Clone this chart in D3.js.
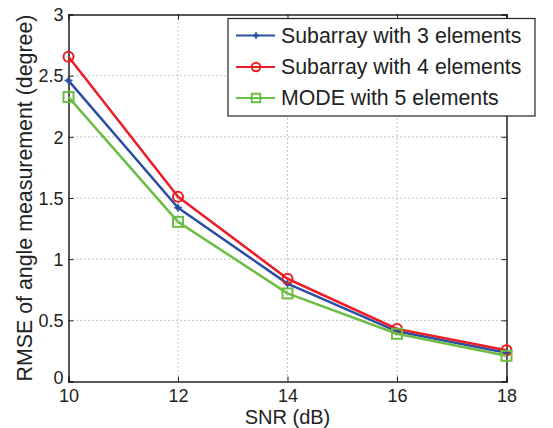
<!DOCTYPE html>
<html><head><meta charset="utf-8">
<script src="https://cdn.jsdelivr.net/npm/d3@7"></script>
<style>body{margin:0;background:#fff}svg{display:block}text{font-family:"Liberation Sans",Arial,sans-serif;fill:#222}</style>
</head><body>
<script>
const snr = [10, 12, 14, 16, 18];
const sub3 = [2.46, 1.42, 0.80, 0.41, 0.235];
const sub4 = [2.655, 1.51, 0.84, 0.43, 0.255];
const mode5 = [2.325, 1.305, 0.72, 0.39, 0.21];
const xTicks = [10, 12, 14, 16, 18];
const yTicks = [0, 0.5, 1, 1.5, 2, 2.5, 3];
const seriesNames = ["Subarray with 3 elements", "Subarray with 4 elements", "MODE with 5 elements"];

const W = 553, H = 428;
const L = 68.5, R = 506.5, T = 14.5, B = 381.5;
const svg = d3.select("body").append("svg").attr("width", W).attr("height", H);
const x = d3.scaleLinear().domain([10, 18]).range([L, R]);
const y = d3.scaleLinear().domain([0, 3]).range([B, T]);

// grid
const g = svg.append("g");
g.selectAll(".gx").data(xTicks.slice(1, -1)).enter().append("line")
  .attr("x1", d => x(d)).attr("x2", d => x(d)).attr("y1", T).attr("y2", B)
  .attr("stroke", "#888").attr("stroke-width", 1).attr("stroke-dasharray", "1,3");
g.selectAll(".gy").data(yTicks.slice(1, -1)).enter().append("line")
  .attr("y1", d => y(d)).attr("y2", d => y(d)).attr("x1", L).attr("x2", R)
  .attr("stroke", "#888").attr("stroke-width", 1).attr("stroke-dasharray", "1,3");

// axes
const ax = svg.append("g").attr("transform", `translate(0,${B})`)
  .call(d3.axisBottom(x).tickValues(xTicks).tickSize(-5).tickPadding(9).tickFormat(d3.format("d")));
const ay = svg.append("g").attr("transform", `translate(${L},0)`)
  .call(d3.axisLeft(y).tickValues(yTicks).tickSize(-5).tickPadding(5).tickFormat(d => d));
const axT = svg.append("g").attr("transform", `translate(0,${T})`)
  .call(d3.axisTop(x).tickValues(xTicks).tickSize(-5).tickFormat(""));
const ayR = svg.append("g").attr("transform", `translate(${R},0)`)
  .call(d3.axisRight(y).tickValues(yTicks).tickSize(-5).tickFormat(""));
[ax, ay, axT, ayR].forEach(a => {
  a.select(".domain").attr("stroke", "#222").attr("stroke-width", 1.5);
  a.selectAll(".tick line").attr("stroke", "#222");
  a.selectAll("text").attr("font-size", 18).attr("fill", "#222")
    .attr("font-family", '"Liberation Sans",Arial,sans-serif');
});
ax.selectAll("text").attr("dy", "0.62em");
ay.selectAll("text").attr("dy", d => d === 0 ? "0.12em" : "0.35em");

// axis titles
svg.append("text").attr("x", (L + R) / 2).attr("y", 424).attr("text-anchor", "middle")
  .attr("font-size", 20).text("SNR (dB)");
const yt = svg.append("text").attr("transform", `translate(32,${(T + B) / 2}) rotate(-90)`)
  .attr("text-anchor", "middle").attr("font-size", 20).text("RMSE of angle measurement (degree)");
const len = yt.node().getComputedTextLength();
yt.attr("font-size", 20 * 367 / len);

const colors = ["#2b4ea2", "#ec1c24", "#6cbd45"];
const allSeries = [sub3, sub4, mode5];
const line = d3.line().x((d, i) => x(snr[i])).y(d => y(d));

function marker(sel, k, cx, cy, s) {
  if (k === 0) {
    sel.append("circle").attr("cx", cx).attr("cy", cy).attr("r", 2.5 * s).attr("fill", colors[0]);
    sel.append("path").attr("d", `M${cx-4*s},${cy}H${cx+4*s}M${cx},${cy-4*s}V${cy+4*s}`).attr("stroke", colors[0]).attr("stroke-width", 1.5);
  } else if (k === 1) {
    sel.append("circle").attr("cx", cx).attr("cy", cy).attr("r", 5 * s).attr("fill", "none")
      .attr("stroke", colors[1]).attr("stroke-width", 2);
  } else {
    sel.append("rect").attr("x", cx - 5 * s).attr("y", cy - 5 * s).attr("width", 10 * s).attr("height", 10 * s)
      .attr("fill", "none").attr("stroke", colors[2]).attr("stroke-width", 2);
  }
}

[0, 1, 2].forEach(k => {
  const gg = svg.append("g");
  gg.append("path").datum(allSeries[k]).attr("d", line).attr("fill", "none")
    .attr("stroke", colors[k]).attr("stroke-width", 2.5).attr("stroke-linejoin", "round");
  allSeries[k].forEach((v, i) => marker(gg, k, x(snr[i]), y(v), 1));
});

// legend
const lg = svg.append("g");
lg.append("rect").attr("x", 228).attr("y", 18.5).attr("width", 307).attr("height", 97.5)
  .attr("fill", "#fff").attr("stroke", "#222").attr("stroke-width", 1.2);
const rowsY = [35.5, 67, 98];
seriesNames.forEach((n, k) => {
  lg.append("line").attr("x1", 236).attr("x2", 275).attr("y1", rowsY[k]).attr("y2", rowsY[k])
    .attr("stroke", colors[k]).attr("stroke-width", 2.2);
  marker(lg, k, 256, rowsY[k], 0.85);
  lg.append("text").attr("x", 281).attr("y", rowsY[k]).attr("dy", "0.35em")
    .attr("font-size", 21.3).text(n);
});
</script>
</body></html>
